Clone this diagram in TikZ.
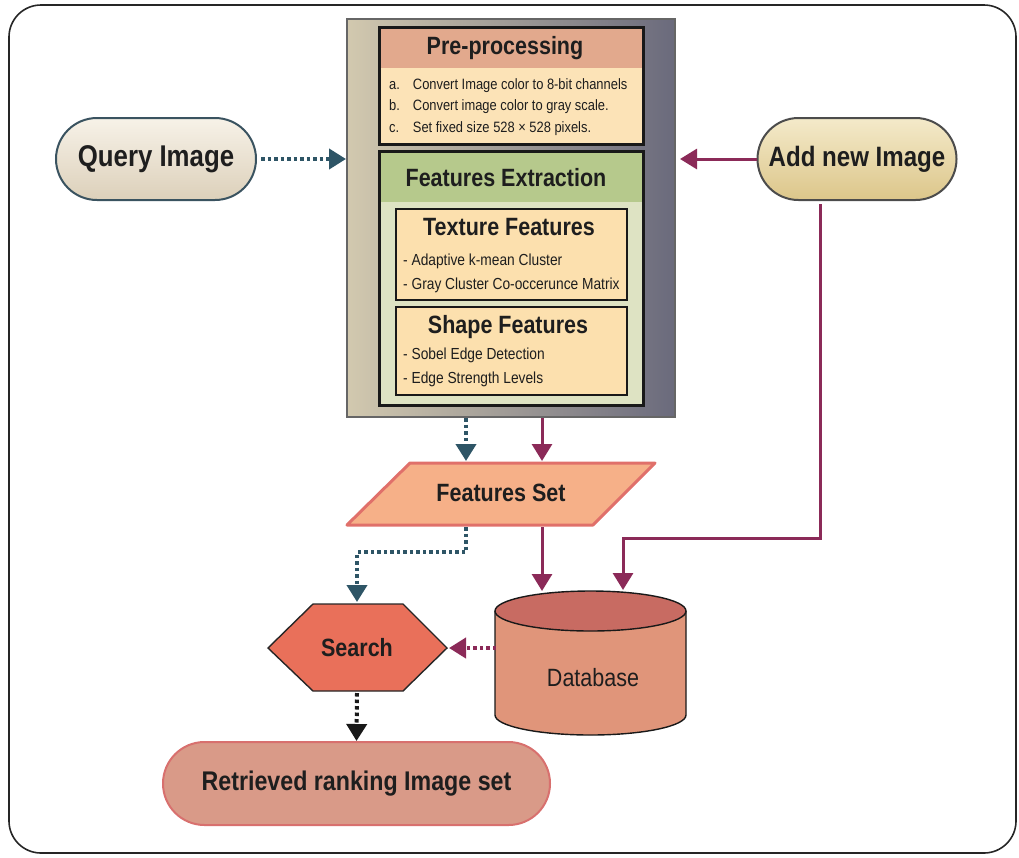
\documentclass[tikz,border=0pt]{standalone}
\usepackage{fontspec}
\setmainfont{Liberation Sans}[FakeStretch=0.86]
\usetikzlibrary{arrows.meta,shapes.misc,calc}

\definecolor{slate}{HTML}{2E5566}
\definecolor{maroon}{HTML}{8B2A58}
\definecolor{mainL}{HTML}{D2C9AF}
\definecolor{mainR}{HTML}{6A6A7C}
\definecolor{preHead}{HTML}{E2A98D}
\definecolor{preBody}{HTML}{FCE3B7}
\definecolor{feHead}{HTML}{B6C98C}
\definecolor{feBody}{HTML}{DEE3C3}
\definecolor{subBox}{HTML}{FCE0AE}
\definecolor{fsFill}{HTML}{F6B088}
\definecolor{fsLine}{HTML}{E0706A}
\definecolor{searchFill}{HTML}{E9705A}
\definecolor{dbBody}{HTML}{E0957A}
\definecolor{dbTop}{HTML}{C86B62}
\definecolor{retFill}{HTML}{D99A88}
\definecolor{retLine}{HTML}{D8706E}
\definecolor{qTop}{HTML}{F7F2E8}
\definecolor{qBot}{HTML}{DCD0BA}
\definecolor{qLine}{HTML}{3A5360}
\definecolor{aTop}{HTML}{F4EACA}
\definecolor{aBot}{HTML}{DCC68A}
\definecolor{txt}{HTML}{1E1E1E}

\tikzset{
  title/.style={font=\bfseries\fontsize{25}{29}\selectfont, text=txt, inner sep=0},
  listtext/.style={font=\fontsize{16}{24}\selectfont, text=txt, align=left, anchor=west, inner sep=0},
  pill/.style={rounded rectangle, line width=2pt, inner sep=0, font=\bfseries\fontsize{30}{36}\selectfont, text=txt},
  tip/.style={-{Triangle[length=17pt,width=20pt]}},
  dotline/.style={line width=4pt, dash pattern=on 3.5pt off 3pt},
  solidline/.style={line width=3pt},
  panel/.style={draw=black!90, line width=1.6pt, inner sep=0},
}

\begin{document}
\begin{tikzpicture}[x=1pt,y=-1pt]
\useasboundingbox (0,0) rectangle (1019,857);

% outer frame
\draw[line width=1.6pt, black!85, rounded corners=32pt] (9,5) rectangle (1016,853);

% central processing block
\node[draw=black!60, line width=2pt, left color=mainL, right color=mainR,
      minimum width=328, minimum height=398, inner sep=0] (main) at (511,218) {};

% pre-processing panel
\node[panel, fill=preBody, minimum width=263, minimum height=116,
      path picture={\fill[preHead] (path picture bounding box.north west)
        rectangle ([yshift=-40pt]path picture bounding box.north east);}] (pre) at (511.5,86) {};
\draw[black!90, line width=1.6pt] (pre.north west) rectangle (pre.south east);
\node[title] (preT) at (505,48) {Pre-processing};
\node[font=\fontsize{15}{21.5}\selectfont, text=txt, anchor=north west, inner sep=0] (preL) at (389,74)
  {\begin{tabular}{@{}l@{\hspace{13pt}}l@{}}
   a. & Convert Image color to 8-bit channels\\
   b. & Convert image color to gray scale.\\
   c. & Set fixed size 528 × 528 pixels.
   \end{tabular}};

% features extraction panel
\node[panel, fill=feBody, minimum width=263, minimum height=253,
      path picture={\fill[feHead] (path picture bounding box.north west)
        rectangle ([yshift=-50pt]path picture bounding box.north east);}] (fe) at (511.5,278.5) {};
\draw[black!90, line width=1.6pt] (fe.north west) rectangle (fe.south east);
\node[title] (feT) at (506,178) {Features Extraction};

% texture features
\node[panel, fill=subBox, minimum width=231, minimum height=91] (tex) at (511.5,254.5) {};
\node[title] (texT) at (509,227) {Texture Features};
\node[listtext] (texL) at (403,273) {- Adaptive k-mean Cluster\\- Gray Cluster Co-occerunce Matrix};

% shape features
\node[panel, fill=subBox, minimum width=231, minimum height=88] (shp) at (511.5,351) {};
\node[title] (shpT) at (508,327) {Shape Features};
\node[listtext] (shpL) at (403,367.5) {- Sobel Edge Detection\\- Edge Strength Levels};

% input terminals
\node[pill, draw=qLine, top color=qTop, bottom color=qBot, minimum width=200, minimum height=82] (query) at (156,159) {Query Image};
\node[pill, draw=black!70, top color=aTop, bottom color=aBot, minimum width=199, minimum height=82,
      font=\bfseries\fontsize{28}{34}\selectfont] (add) at (857,159) {Add new Image};

% features set (parallelogram)
\fill[fsFill] (410,463) -- (655,463) -- (593,525) -- (347,525) -- cycle;
\draw[fsLine, line width=3pt, line join=round] (410,463) -- (655,463) -- (593,525) -- (347,525) -- cycle;
\node[title] (fs) at (501,493) {Features Set};
\coordinate (fsInL) at (466,461);
\coordinate (fsInR) at (542,461);
\coordinate (fsOutL) at (466,527);
\coordinate (fsOutR) at (542,527);

% search (hexagon)
\draw[fill=searchFill, line width=1.4pt, draw=black!85] (268,648) -- (313,604) -- (403,604) -- (447,648) -- (403,691) -- (313,691) -- cycle;
\node[title] (search) at (357,648) {Search};
\coordinate (searchN) at (357,602);
\coordinate (searchE) at (449,648);
\coordinate (searchS) at (357,693);

% database (cylinder)
\filldraw[fill=dbBody, draw=black!90, line width=1.4pt] (495,611) -- (495,715)
  arc[start angle=180, end angle=0, x radius=95.5, y radius=20] -- (686,611);
\filldraw[fill=dbTop, draw=black!90, line width=1.4pt] (590.5,611) ellipse [x radius=95.5, y radius=20];
\node[font=\fontsize{25}{29}\selectfont, text=txt, inner sep=0] (db) at (593,678) {Database};
\coordinate (dbInL) at (542,591);
\coordinate (dbInR) at (623,590);
\coordinate (dbOut) at (496,648);

% result terminal
\node[pill, draw=retLine, fill=retFill, minimum width=387, minimum height=83,
      font=\bfseries\fontsize{27}{32}\selectfont] (ret) at (356.5,783.5) {Retrieved ranking Image set};

% connectors
\draw[dotline, tip, slate] ([xshift=4pt]query.east) -- (query.east -| main.west);
\draw[solidline, tip, maroon] (add.west) -- ([xshift=4pt]add.west -| main.east);
\draw[dotline, tip, slate] (main.south -| fsInL) -- (fsInL);
\draw[solidline, tip, maroon] (main.south -| fsInR) -- (fsInR);
\draw[dotline, tip, slate] (fsOutL) -- ++(0,25) -| (searchN);
\draw[solidline, tip, maroon] (fsOutR) -- (dbInL);
\coordinate (addOut) at (820,204);
\draw[solidline, tip, maroon] (addOut) -- ++(0,334) -| (dbInR);
\draw[dotline, tip, maroon] (dbOut) -- (searchE);
\draw[dotline, tip, black!90] (searchS) -- (ret.north);
\end{tikzpicture}
\end{document}
